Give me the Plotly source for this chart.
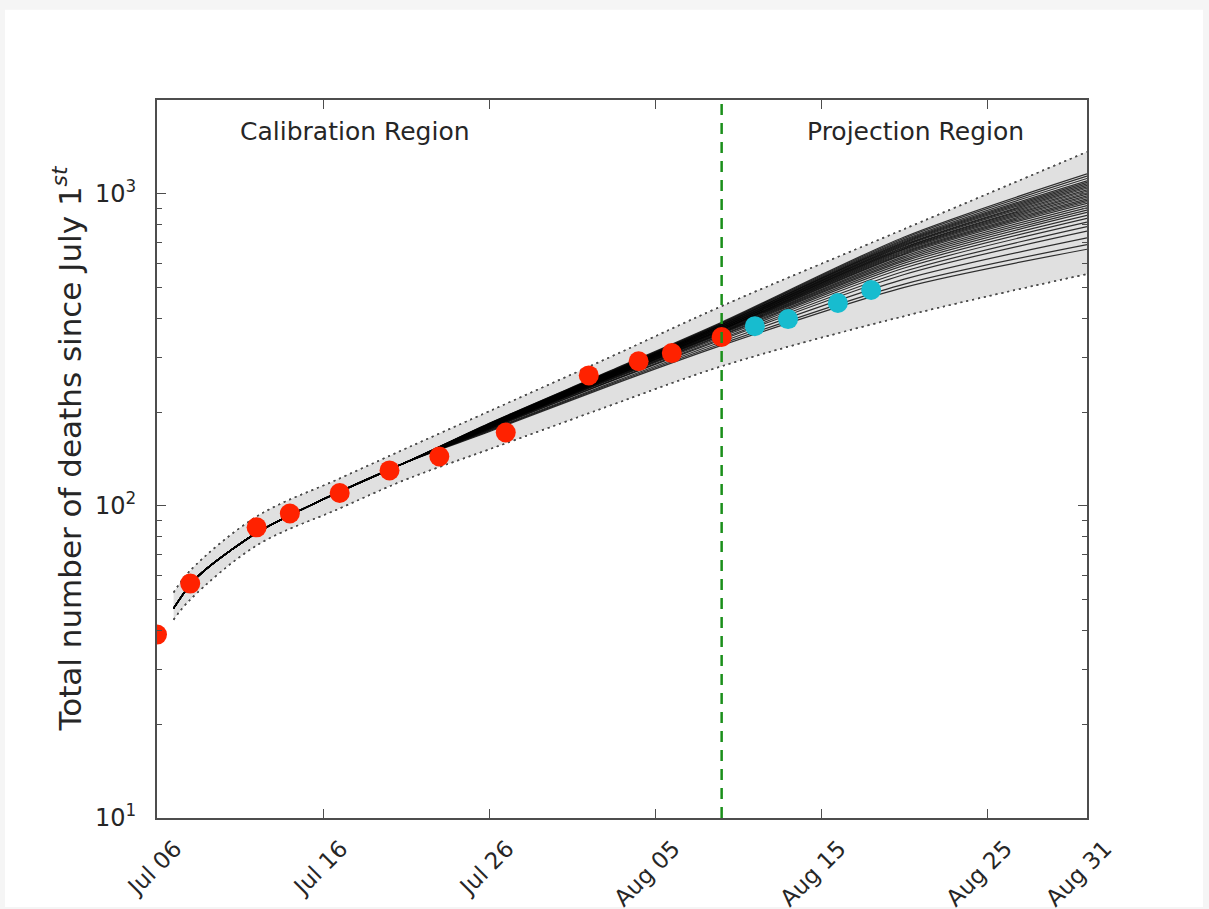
import math
import plotly.graph_objects as go

# ---------------- data ----------------
calib_dates = ['2014-07-06', '2014-07-08', '2014-07-12', '2014-07-14', '2014-07-17',
               '2014-07-20', '2014-07-23', '2014-07-27', '2014-08-01', '2014-08-04',
               '2014-08-06', '2014-08-09']
calib_deaths = [38.7, 56.4, 85.4, 94.6, 110, 130, 144, 172, 262, 291, 309, 348]

proj_dates = ['2014-08-11', '2014-08-13', '2014-08-16', '2014-08-18']
proj_deaths = [377, 397, 447, 492]

# ensemble of model runs: shared early part, then individual runs
early_dates = ['2014-07-07', '2014-07-08', '2014-07-09', '2014-07-12', '2014-07-16', '2014-07-21']
early_values = [47, 56, 63, 82, 105, 138]
member_dates = ['2014-07-26', '2014-08-02', '2014-08-09', '2014-08-20', '2014-08-31']
members = [
    [173, 240, 327, 502, 665],
    [174, 242, 331, 514, 688],
    [175, 244, 336, 533, 723],
    [176, 247, 341, 552, 760],
    [176.5, 248, 344, 565, 786],
    [177, 250, 348, 579, 812],
    [178, 251, 351, 590, 835],
    [178, 252, 353, 600, 854],
    [178.5, 253, 356, 609, 873],
    [179, 254, 358, 616, 888],
    [179, 254.5, 359.5, 624, 903],
    [179.5, 255, 361, 631, 918],
    [180, 256, 363, 639, 933],
    [180, 256.6, 364.5, 644, 944],
    [180.2, 257, 366, 649, 954],
    [180.4, 258, 367, 654, 965],
    [180.6, 258, 368, 659, 976],
    [181, 259, 369, 664, 986],
    [181, 259, 371, 668, 998],
    [181.3, 260, 372, 672, 1009],
    [181.5, 260, 373, 676, 1020],
    [181.7, 261, 374.5, 681, 1031],
    [182, 261.5, 376, 685, 1043],
    [182, 262, 377, 689, 1054],
    [182.4, 262.6, 378, 694, 1066],
    [182.6, 263, 380, 699, 1078],
    [182.8, 264, 381, 703, 1090],
    [183, 264, 382, 708, 1102],
    [183.4, 265, 384, 714, 1121],
    [183.7, 266, 386, 721, 1140],
    [184, 267, 388, 728, 1159],
]

band_dates = ['2014-07-07', '2014-07-08', '2014-07-12', '2014-07-17', '2014-07-21',
              '2014-07-26', '2014-08-02', '2014-08-09', '2014-08-20', '2014-08-31']
band_upper = [52.8, 62.1, 92.5, 122.5, 152.9, 201.1, 295.3, 436.9, 772, 1364]
band_lower = [43.2, 50.1, 74.7, 98.2, 121.6, 151.8, 207.1, 280.4, 405.8, 553.6]

projection_start = '2014-08-09'

x_tick_dates = ['2014-07-06', '2014-07-16', '2014-07-26', '2014-08-05',
                '2014-08-15', '2014-08-25', '2014-08-31']
x_tick_text = ['Jul 06', 'Jul 16', 'Jul 26', 'Aug 05', 'Aug 15', 'Aug 25', 'Aug 31']
y_tick_vals = [10, 100, 1000]
y_tick_text = ['10<sup>1</sup>', '10<sup>2</sup>', '10<sup>3</sup>']
y_title = 'Total number of deaths since July 1<sup><i>st</i></sup>'

# ---------------- figure ----------------
FONT = 'DejaVu Sans'
AXC = '#4d4d4d'
TXT = '#262626'
DOT = dict(color='#4a4a4a', width=1.5, dash='2px,4px', shape='spline')

# vertical layout (compensates the capture's vertical squeeze)
KY = 1.0155
FIG_H = round(909 * KY)
TOP = round(98 * KY)
PLOT_H = round(717 * KY)
BOT = FIG_H - TOP - PLOT_H

fig = go.Figure()

# uncertainty band
fig.add_trace(go.Scatter(x=band_dates, y=band_lower, mode='lines', line=DOT,
                         showlegend=False, hoverinfo='skip'))
fig.add_trace(go.Scatter(x=band_dates, y=band_upper, mode='lines', fill='tonexty',
                         fillcolor='#e0e0e0', line=DOT,
                         showlegend=False, hoverinfo='skip'))

# ensemble runs
for m in members:
    fig.add_trace(go.Scatter(x=early_dates + member_dates, y=early_values + m, mode='lines',
                             line=dict(color='rgba(0,0,0,0.8)', width=1.2, shape='spline',
                                       smoothing=0.8),
                             showlegend=False, hoverinfo='skip'))

# redraw dotted bounds on top
fig.add_trace(go.Scatter(x=band_dates, y=band_lower, mode='lines', line=DOT,
                         showlegend=False, hoverinfo='skip'))
fig.add_trace(go.Scatter(x=band_dates, y=band_upper, mode='lines', line=DOT,
                         showlegend=False, hoverinfo='skip'))

# data points
fig.add_trace(go.Scatter(x=calib_dates, y=calib_deaths, mode='markers',
                         marker=dict(color='#ff2200', size=20, line=dict(width=0)),
                         showlegend=False))
fig.add_trace(go.Scatter(x=proj_dates, y=proj_deaths, mode='markers',
                         marker=dict(color='#17bccf', size=20, line=dict(width=0)),
                         showlegend=False))

# calibration / projection divider
fig.add_shape(type='line', xref='x', yref='paper', x0=projection_start, x1=projection_start,
              y0=0, y1=1, line=dict(color='#1a8f1a', width=2.5, dash='11px,8px'))

# page border (light grey frame around white area)
fig.add_shape(type='rect', xref='paper', yref='paper', layer='below',
              x0=(5 - 157) / 930, x1=(1203 - 157) / 930,
              y0=(815 - 904) / 717, y1=(815 - 8) / 717,
              fillcolor='white', line=dict(width=0))

fig.add_annotation(text='Calibration Region', xref='paper', yref='paper',
                   x=(355 - 157) / 930, y=(815 - 129) / 717, showarrow=False,
                   xanchor='center', yanchor='middle',
                   font=dict(family=FONT, size=25, color=TXT))
fig.add_annotation(text='Projection Region', xref='paper', yref='paper',
                   x=(915 - 157) / 930, y=(815 - 129) / 717, showarrow=False,
                   xanchor='center', yanchor='middle',
                   font=dict(family=FONT, size=25, color=TXT))
# y-axis title
fig.add_annotation(text=y_title, xref='paper', yref='paper', textangle=-90,
                   x=(68 - 157) / 930, y=(815 - 446) / 717, showarrow=False,
                   xanchor='center', yanchor='middle',
                   font=dict(family=FONT, size=31, color=TXT))

minor_y = [k * 10 ** e for e in (1, 2, 3) for k in range(2, 10) if k * 10 ** e <= 2000]

fig.update_layout(
    width=1209, height=FIG_H,
    margin=dict(l=157, r=122, t=TOP, b=BOT),
    paper_bgcolor='#f5f5f5', plot_bgcolor='white',
    font=dict(family=FONT, size=22, color=TXT),
    showlegend=False,
    xaxis=dict(type='date', range=['2014-07-06', '2014-08-31'],
               tickmode='array', tickvals=x_tick_dates, ticktext=x_tick_text,
               tickangle=-45, ticks='inside', ticklen=9, tickwidth=1.2, tickcolor=AXC,
               showline=True, linecolor=AXC, linewidth=2, mirror='allticks',
               showgrid=False, zeroline=False,
               tickfont=dict(family=FONT, size=23, color=TXT),
               ticklabelshift=18, ticklabelstandoff=6),
    yaxis=dict(type='log', range=[1, math.log10(2000)],
               tickmode='array', tickvals=y_tick_vals, ticktext=y_tick_text,
               ticks='inside', ticklen=9, tickwidth=1.2, tickcolor=AXC,
               minor=dict(tickmode='array', tickvals=minor_y, ticks='inside', ticklen=5,
                          tickwidth=1, tickcolor=AXC, showgrid=False),
               showline=True, linecolor=AXC, linewidth=2, mirror='allticks',
               showgrid=False, zeroline=False,
               tickfont=dict(family=FONT, size=24, color=TXT),
               ticklabelstandoff=14),
)

page_fix = ("var s=document.documentElement.style;s.margin='0';s.padding='0';"
            "s.overflow='hidden';"
            "var b=document.body.style;b.margin='0';b.padding='0';b.overflow='hidden';")

fig.write_html('out.html', config={'displayModeBar': False}, post_script=page_fix)
